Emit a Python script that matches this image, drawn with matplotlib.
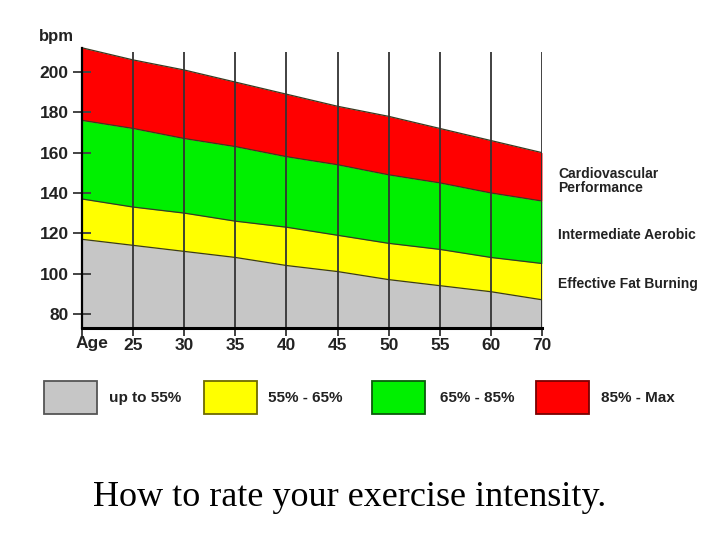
"""
Heart-rate training zones by age, with legend and caption.
"""
import matplotlib
matplotlib.use("Agg")
import matplotlib.pyplot as plt
from matplotlib.patches import Rectangle
import numpy as np

matplotlib.rcParams.update({"font.family": ["Liberation Sans", "DejaVu Sans"]})

# ages at the vertical lines (the picture labels the last one 70)
AGE_LABELS = ["", "25", "30", "35", "40", "45", "50", "55", "60", "70"]
# zone boundaries in bpm, read at each vertical line
MAX_HR   = [212, 206, 201, 195, 189, 183, 178, 172, 166, 160]
HR_85    = [176, 172, 167, 163, 158, 154, 149, 145, 140, 136]
HR_65    = [137, 133, 130, 126, 123, 119, 115, 112, 108, 105]
HR_55    = [117, 114, 111, 108, 104, 101, 97, 94, 91, 87]
Y_TICKS  = [80, 100, 120, 140, 160, 180, 200]

ZONE_NAMES = ["Cardiovascular\nPerformance", "Intermediate Aerobic", "Effective Fat Burning"]
LEGEND_LABELS = ["up to 55%", "55% - 65%", "65% - 85%", "85% - Max"]

GRAY   = "#C6C6C6"
YELLOW = "#FFFF00"
GREEN  = "#00F000"
RED    = "#FF0000"
FACE = [GRAY, YELLOW, GREEN, RED]
EDGE = ["#555555", "#6E6A00", "#0C5A0C", "#7A0000"]
TXT = "#222222"

W, H = 728, 546
fig = plt.figure(figsize=(W / 100, H / 100), dpi=100)

y_lo, y_hi = 73, 213
ax = fig.add_axes([82 / W, 1 - 328 / H, 460 / W, (328 - 45.8) / H])
x = np.arange(len(AGE_LABELS))
ax.set_xlim(x[0], x[-1])
ax.set_ylim(y_lo, y_hi)

bounds = [np.full(len(x), y_lo), HR_55, HR_65, HR_85, MAX_HR]
for k in range(4):
    ax.fill_between(x, bounds[k], bounds[k + 1], color=FACE[k], linewidth=0, zorder=1)
for b in bounds[1:]:
    ax.plot(x, b, color="#3A3A20", linewidth=0.9, zorder=2)

# vertical lines at each age
ax.vlines(x[1:], y_lo, 210, color="#333333", linewidth=1.3, zorder=3)
ax.vlines(x[-1], y_lo, MAX_HR[-1], color="#333333", linewidth=1.3, zorder=3)

for s in ["top", "right"]:
    ax.spines[s].set_visible(False)
ax.spines["bottom"].set_linewidth(2.2)
ax.spines["left"].set_linewidth(1.6)
ax.spines["left"].set_bounds(y_lo, MAX_HR[0])
ax.spines["bottom"].set_zorder(4)

ax.set_yticks(Y_TICKS)
ax.set_yticklabels([str(v) for v in Y_TICKS], fontsize=12.5, fontweight="bold", color=TXT)
ax.tick_params(axis="y", direction="inout", length=13, width=1.4, color="#444444", pad=3)
ax.set_xticks(x)
ax.set_xticklabels(AGE_LABELS, fontsize=12.5, fontweight="bold", color=TXT)
ax.tick_params(axis="x", direction="out", length=6, width=1.3, color="#333333", pad=1.5)

ax.text(-6 / 460, -0.03, "Age", transform=ax.transAxes, ha="left", va="top",
        fontsize=12.5, fontweight="bold", color=TXT)
fig.text(39 / W, 1 - 37 / H, "bpm", ha="left", va="center",
         fontsize=12, fontweight="bold", color=TXT)

# zone names on the right
for name, ypx in zip(ZONE_NAMES, [181, 235, 284]):
    fig.text(558 / W, 1 - ypx / H, name, ha="left", va="center", fontsize=10,
             fontweight="bold", color=TXT, linespacing=0.95)

# legend row
box_x = [44, 204, 372, 536]
lab_x = [109, 268, 440, 601]
for k in range(4):
    fig.add_artist(Rectangle((box_x[k] / W, 1 - 414 / H), 53 / W, 33 / H,
                             transform=fig.transFigure, facecolor=FACE[k],
                             edgecolor=EDGE[k], linewidth=1.3))
    fig.text(lab_x[k] / W, 1 - 398 / H, LEGEND_LABELS[k], ha="left", va="center",
             fontsize=11, fontweight="bold", color=TXT)

fig.text(350 / W, 1 - 497 / H, "How to rate your exercise intensity.", ha="center",
         va="center", fontsize=26, family="Liberation Serif", color="black")

fig.savefig("out.png", dpi=100)
plt.close(fig)
